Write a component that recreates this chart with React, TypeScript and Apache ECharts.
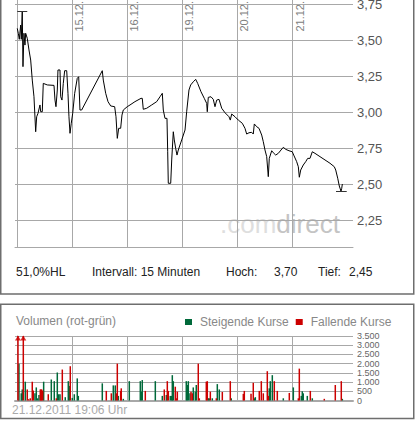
import React, { useEffect, useRef } from 'react';
import * as echarts from 'echarts';

// x unit = trading day, 0 = start of 14.12.
const dayTicks = [1, 2, 3, 4, 5];
const dayLabels = ['15.12.', '16.12.', '19.12.', '20.12.', '21.12.'];
const priceTicks = [2.25, 2.5, 2.75, 3.0, 3.25, 3.5, 3.75];

const priceLine: [number, number][] = [
  [0.005, 3.581], [0.024, 3.547], [0.042, 3.505], [0.067, 3.604], [0.078, 3.505],
  [0.096, 3.70], [0.109, 3.315], [0.127, 3.547], [0.145, 3.465], [0.158, 3.547],
  [0.187, 3.512], [0.218, 3.431], [0.249, 3.361], [0.278, 3.222], [0.309, 3.106],
  [0.340, 2.863], [0.358, 2.967], [0.382, 2.991], [0.418, 3.049], [0.431, 3.002],
  [0.460, 3.002], [0.478, 3.199], [0.551, 3.188], [0.673, 3.185], [0.691, 3.083],
  [0.709, 3.037], [0.733, 3.153], [0.745, 3.292], [0.782, 3.292], [0.795, 3.106],
  [0.818, 3.083], [0.842, 3.199], [0.867, 3.287], [0.904, 3.287], [0.927, 3.130],
  [0.945, 2.967], [0.964, 2.852], [0.987, 2.922], [1.013, 2.991], [1.049, 3.130],
  [1.096, 3.234], [1.122, 3.245], [1.145, 3.014], [1.176, 3.014], [1.551, 3.287],
  [1.569, 3.222], [1.613, 3.130], [1.655, 3.072], [1.704, 3.042], [1.776, 3.037],
  [1.800, 2.967], [1.824, 2.817], [1.849, 2.887], [1.885, 2.887], [1.909, 2.979],
  [1.933, 3.014], [2.005, 3.037], [2.055, 3.049], [2.145, 3.072], [2.255, 3.095],
  [2.278, 3.095], [2.296, 3.019], [2.358, 3.026], [2.449, 3.049], [2.540, 3.072],
  [2.600, 3.106], [2.642, 3.130], [2.660, 3.014], [2.691, 2.956], [2.727, 2.956],
  [2.740, 2.724], [2.751, 2.505], [2.795, 2.505], [2.813, 2.667], [2.842, 2.863],
  [2.860, 2.806], [2.885, 2.748], [2.909, 2.701], [2.933, 2.736], [2.995, 2.806],
  [3.055, 2.875], [3.085, 3.002], [3.127, 3.153], [3.158, 3.188], [3.205, 3.210],
  [3.249, 3.227], [3.285, 3.199], [3.345, 3.141], [3.405, 3.095], [3.449, 3.060],
  [3.460, 3.002], [3.478, 3.102], [3.527, 3.106], [3.569, 3.088], [3.600, 3.037],
  [3.631, 3.083], [3.673, 3.088], [3.722, 3.026], [3.782, 2.995], [3.855, 2.967],
  [3.878, 2.944], [3.904, 2.986], [3.964, 2.967], [4.024, 2.944], [4.096, 2.922],
  [4.145, 2.887], [4.176, 2.847], [4.218, 2.856], [4.267, 2.859], [4.296, 2.847],
  [4.315, 2.917], [4.358, 2.898], [4.400, 2.887], [4.449, 2.840], [4.478, 2.794],
  [4.509, 2.736], [4.540, 2.690], [4.569, 2.551], [4.587, 2.678], [4.631, 2.731],
  [4.660, 2.717], [4.704, 2.701], [4.751, 2.713], [4.800, 2.736], [4.842, 2.755],
  [4.885, 2.741], [4.945, 2.731], [5.005, 2.724], [5.031, 2.701], [5.085, 2.655],
  [5.115, 2.620], [5.133, 2.547], [5.158, 2.597], [5.205, 2.632], [5.249, 2.655],
  [5.285, 2.678], [5.327, 2.678], [5.369, 2.724], [5.418, 2.713], [5.509, 2.690],
  [5.600, 2.667], [5.691, 2.644], [5.769, 2.620], [5.795, 2.597], [5.831, 2.540],
  [5.860, 2.486], [5.891, 2.450], [5.904, 2.470], [5.915, 2.500],
];

const highValue = 3.70;
const highSpan = [0.005, 0.187];
const lowValue = 2.45;
const lowSpan = [5.8, 5.995];

const risingVolumes: [number, number][] = [
  [0.036, 2000], [0.078, 390], [0.096, 600], [0.151, 1020], [0.327, 390], [0.351, 710],
  [0.376, 120], [0.4, 300], [0.485, 1020], [0.624, 1140], [0.678, 1050], [0.733, 1520],
  [0.758, 340], [0.782, 340], [0.878, 180], [0.933, 1050], [0.951, 790], [1.005, 140],
  [1.042, 340], [1.096, 1200], [1.115, 250], [1.551, 930], [1.751, 820], [1.787, 820],
  [1.842, 250], [1.933, 90], [2.042, 1050], [2.242, 1050], [2.26, 480], [2.278, 1110],
  [2.515, 1050], [2.642, 250], [2.715, 300], [2.787, 250], [2.813, 250], [2.824, 1375],
  [2.842, 1050], [3.078, 1050], [3.096, 840], [3.115, 1050], [3.145, 390], [3.205, 710],
  [3.242, 480], [3.26, 840], [3.478, 120], [3.496, 120], [3.551, 120], [3.642, 890],
  [3.678, 600], [3.896, 120], [4.315, 120], [4.333, 180], [4.587, 660], [4.605, 1050],
  [4.642, 1375], [4.842, 120], [5.024, 710], [5.169, 250], [5.187, 500], [5.205, 390],
  [5.278, 250], [5.369, 120], [5.915, 90],
];

const fallingVolumes: [number, number][] = [
  [0.018, 5000], [0.115, 5000], [0.187, 600], [0.213, 70], [0.242, 120], [0.278, 1020],
  [0.296, 540], [0.424, 600], [0.436, 600], [0.449, 600], [0.467, 540], [0.569, 340],
  [0.715, 120], [0.824, 1680], [0.969, 1860], [1.624, 520], [1.715, 390], [1.805, 390],
  [1.824, 2000], [1.885, 520], [1.896, 660], [2.333, 520], [2.678, 600], [2.733, 1050],
  [2.751, 520], [2.878, 750], [2.896, 120], [2.915, 480], [3.164, 480], [3.187, 390],
  [3.296, 2000], [3.315, 120], [3.442, 1020], [3.46, 1050], [3.515, 480], [3.624, 120],
  [3.733, 460], [3.878, 1050], [4.115, 360], [4.133, 520], [4.255, 360], [4.296, 960],
  [4.405, 520], [4.442, 1050], [4.478, 390], [4.551, 1590], [4.569, 250], [4.678, 1050],
  [4.733, 520], [4.951, 410], [5.115, 120], [5.133, 1730], [5.333, 520], [5.587, 90],
  [5.787, 840], [5.896, 1050],
];

const X_MIN = -0.036;
const X_MAX = 6.109;
const VOLUME_MAX = 3500;
const FONT = '"Liberation Sans", Arial, sans-serif';
const GRID_COLOR = '#a8a8a8';
const GREEN = '#00693a';
const RED = '#cc0000';

const formatThousands = (v: number) =>
  v >= 1000 ? `${Math.floor(v / 1000)}.${String(v % 1000).padStart(3, '0')}` : String(v);

const App: React.FC = () => {
  const chartRef = useRef<HTMLDivElement>(null);

  useEffect(() => {
    if (!chartRef.current) return;
    const chart = echarts.init(chartRef.current, undefined, { renderer: 'svg' });

    const overflow = fallingVolumes
      .filter(([, v]) => v > VOLUME_MAX)
      .map(([t]) => [t, VOLUME_MAX]);

    const text = (x: number, y: number, str: string, fill: string, fontSize = 12) => ({
      type: 'text',
      x,
      y,
      style: { text: str, fill, fontSize, fontFamily: FONT, verticalAlign: 'middle' },
    });

    const graphics: any[] = [
      {
        type: 'rect',
        shape: { x: 0.75, y: -5, width: 413, height: 299 },
        style: { fill: 'none', stroke: '#6e6e6e', lineWidth: 1.5 },
      },
      {
        type: 'rect',
        shape: { x: 0.75, y: 304.25, width: 413, height: 114.25 },
        style: { fill: 'none', stroke: '#6e6e6e', lineWidth: 1.5 },
      },
      {
        type: 'text',
        x: 220,
        y: 224,
        z: -1,
        style: {
          text: '{a|.com}{b|direct}',
          fontFamily: FONT,
          fontSize: 26,
          verticalAlign: 'middle',
          rich: {
            a: { fill: '#dedede', fontSize: 26, fontFamily: FONT },
            b: { fill: '#c4c4c4', fontSize: 26, fontFamily: FONT },
          },
        },
      },
      text(16, 272, '51,0%HL', '#222'),
      text(92, 272, 'Intervall: 15 Minuten', '#222'),
      text(226, 272, 'Hoch:', '#222'),
      text(274, 272, '3,70', '#222'),
      text(318, 272, 'Tief:', '#222'),
      text(349, 272, '2,45', '#222'),
      text(16, 321, 'Volumen (rot-grün)', '#888', 12),
      text(12, 410, '21.12.2011 19:06 Uhr', '#aaa', 12),
    ];

    const option = {
      animation: false,
      textStyle: { fontFamily: FONT },
      legend: {
        data: ['Steigende Kurse', 'Fallende Kurse'],
        left: 185,
        top: 316,
        padding: 0,
        icon: 'rect',
        itemWidth: 7,
        itemHeight: 6,
        itemGap: 7,
        selectedMode: false,
        textStyle: { color: '#888', fontSize: 12, padding: [0, 0, 0, 3] },
      },
      grid: [
        { left: 15, right: 64, top: 0, height: 247, outerBoundsMode: 'none', containLabel: false },
        { left: 15, right: 64, top: 336, height: 64.5, outerBoundsMode: 'none', containLabel: false },
      ],
      xAxis: [
        {
          gridIndex: 0,
          type: 'value',
          position: 'top',
          min: X_MIN,
          max: X_MAX,
          axisLine: { show: false },
          axisTick: { show: false, customValues: dayTicks },
          splitLine: { show: true, lineStyle: { color: GRID_COLOR } },
          axisLabel: { show: false },
        },
        {
          gridIndex: 0,
          type: 'value',
          position: 'bottom',
          min: X_MIN,
          max: X_MAX,
          axisLine: { show: true, onZero: false, lineStyle: { color: GRID_COLOR } },
          axisTick: { show: false },
          axisLabel: { show: false },
          splitLine: { show: false },
        },
        {
          gridIndex: 1,
          type: 'value',
          min: X_MIN,
          max: X_MAX,
          axisLine: { show: true, onZero: false, lineStyle: { color: GRID_COLOR, width: 2 } },
          axisTick: { show: false, customValues: dayTicks },
          axisLabel: { show: false },
          splitLine: { show: true, lineStyle: { color: GRID_COLOR } },
        },
      ],
      yAxis: [
        {
          gridIndex: 0,
          type: 'value',
          position: 'right',
          min: 2.0625,
          max: 3.778,
          axisLine: { show: true, lineStyle: { color: GRID_COLOR } },
          axisTick: { show: false, customValues: priceTicks },
          axisLabel: {
            customValues: priceTicks,
            formatter: (v: number) => v.toFixed(2).replace('.', ','),
            color: '#555',
            fontSize: 13,
            margin: 4,
          },
          splitLine: { show: true, lineStyle: { color: GRID_COLOR } },
        },
        {
          gridIndex: 1,
          type: 'value',
          position: 'right',
          min: 0,
          max: VOLUME_MAX,
          interval: 500,
          axisLine: { show: true, lineStyle: { color: GRID_COLOR } },
          axisTick: { show: false },
          axisLabel: {
            formatter: formatThousands,
            color: '#666',
            fontSize: 9,
            lineHeight: 9,
            margin: 4,
            showMinLabel: true,
            showMaxLabel: true,
          },
          splitLine: { show: true, lineStyle: { color: GRID_COLOR } },
        },
      ],
      series: [
        {
          name: 'Kurs',
          type: 'line',
          xAxisIndex: 0,
          yAxisIndex: 0,
          data: priceLine,
          symbol: 'none',
          lineStyle: { color: '#000', width: 1 },
          z: 3,
          markLine: {
            silent: true,
            symbol: ['none', 'none'],
            label: { show: false },
            lineStyle: { color: '#333', width: 1, type: 'solid' },
            data: [
              [{ coord: [highSpan[0], highValue] }, { coord: [highSpan[1], highValue] }],
              [{ coord: [lowSpan[0], lowValue] }, { coord: [lowSpan[1], lowValue] }],
            ],
          },
        },
        {
          name: 'Steigende Kurse',
          type: 'bar',
          xAxisIndex: 2,
          yAxisIndex: 1,
          data: risingVolumes,
          barWidth: 1.5,
          barGap: '-100%',
          itemStyle: { color: GREEN },
        },
        {
          name: 'Fallende Kurse',
          type: 'bar',
          xAxisIndex: 2,
          yAxisIndex: 1,
          data: fallingVolumes,
          barWidth: 1.5,
          barGap: '-100%',
          itemStyle: { color: RED },
        },
        {
          name: 'overflow',
          type: 'scatter',
          xAxisIndex: 2,
          yAxisIndex: 1,
          data: overflow,
          symbol: 'triangle',
          symbolSize: [6, 5],
          symbolOffset: [0, 2],
          itemStyle: { color: RED },
          silent: true,
        },
      ],
      graphic: graphics,
    };

    chart.setOption(option as any);

    // day labels, rotated, placed through the x axis scale
    const dayTexts = dayTicks.map((v, i) => ({
      type: 'text',
      x: (chart.convertToPixel({ xAxisIndex: 0 }, v) as number) + 2,
      y: 1,
      rotation: Math.PI / 2,
      style: {
        text: dayLabels[i],
        fill: '#808080',
        fontSize: 11,
        fontFamily: FONT,
        align: 'right',
        verticalAlign: 'top',
      },
    }));
    chart.setOption({ graphic: [...graphics, ...dayTexts] } as any);

    return () => chart.dispose();
  }, []);

  return (
    <div
      ref={chartRef}
      style={{ position: 'absolute', left: 0, top: 0, width: 417, height: 425, background: '#fff' }}
    />
  );
};

export default App;
